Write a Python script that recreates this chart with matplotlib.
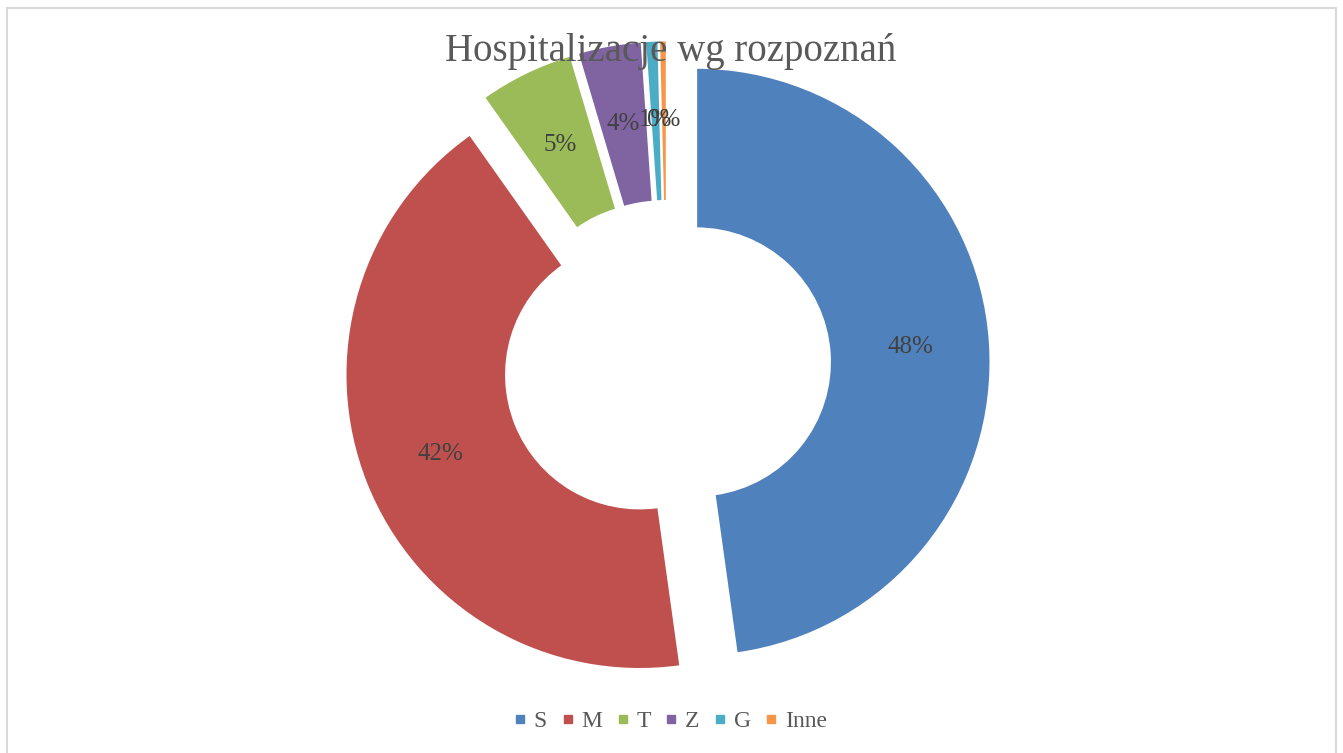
import matplotlib.pyplot as plt
from matplotlib.lines import Line2D
from matplotlib.patches import Rectangle

categories = ['S', 'M', 'T', 'Z', 'G', 'Inne']
values = [47.8, 42.4, 5.2, 3.5, 0.7, 0.4]
colors = ['#4F81BD', '#C0504D', '#9BBB59', '#8064A2', '#4BACC6', '#F79646']

W, H = 1343, 753
fig = plt.figure(figsize=(W / 100, H / 100), dpi=100)
plt.rcParams['font.family'] = ['Liberation Serif', 'DejaVu Serif']

# obramowanie wykresu
fig.add_artist(Rectangle((6.5 / W, -0.1), (1335.5 - 6.5) / W, 1.1 - 8.5 / H,
                         transform=fig.transFigure, fill=False,
                         edgecolor='#d9d9d9', linewidth=1.5))

# srodek kola (667, 364) px, promien 294 px
R = 294
half = 350
ax = fig.add_axes([(667 - half) / W, (H - 364 - half) / H, 2 * half / W, 2 * half / H])
wedges, texts, autotexts = ax.pie(
    values, colors=colors, startangle=90, counterclock=False,
    explode=[0.1] * len(values), autopct='%1.0f%%', pctdistance=0.73,
    wedgeprops=dict(width=0.545, edgecolor='white', linewidth=1.2),
    textprops=dict(fontsize=18, color='#404040'))
ax.set_xlim(-half / R, half / R)
ax.set_ylim(-half / R, half / R)
ax.set_axis_off()

fig.text(671 / W, 1 - 52 / H, 'Hospitalizacje wg rozpoznań', ha='center', va='center',
         fontsize=28, color='#595959')

handles = [Line2D([], [], marker='s', linestyle='none', markersize=6,
                  markerfacecolor=c, markeredgecolor=c) for c in colors]
fig.legend(handles, categories, loc='center', bbox_to_anchor=(0.5, 1 - 721 / H),
           ncol=6, frameon=False, fontsize=17, handlelength=0.35, handletextpad=0.4,
           columnspacing=0.7, labelcolor='#595959')

plt.savefig('out.png', dpi=100)
